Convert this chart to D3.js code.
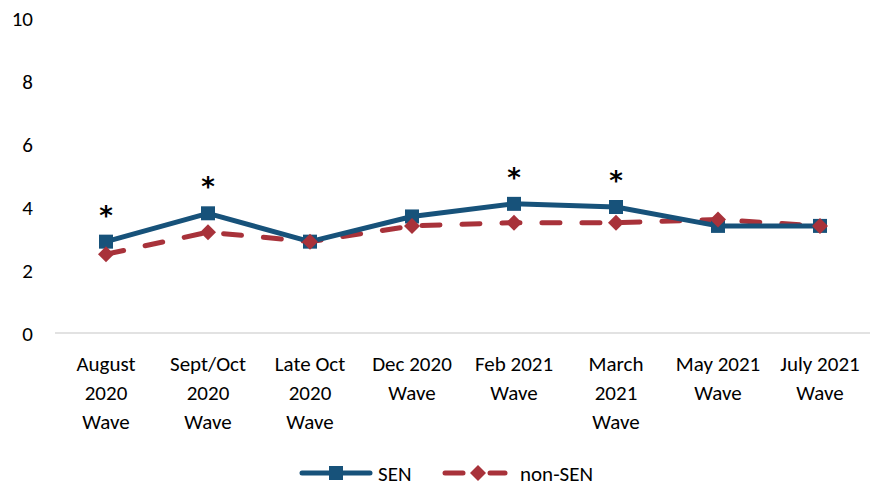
<!DOCTYPE html>
<html><head><meta charset="utf-8">
<script src="https://cdn.jsdelivr.net/npm/d3@7/dist/d3.min.js"></script>
<style>body{margin:0;background:#fff}svg{display:block;font-family:Carlito,Calibri,Lato,"Open Sans",sans-serif}</style>
</head><body><svg id="c" width="870" height="488"></svg>
<script>
const categories = [["August","2020","Wave"],["Sept/Oct","2020","Wave"],["Late Oct","2020","Wave"],["Dec 2020","Wave"],["Feb 2021","Wave"],["March","2021","Wave"],["May 2021","Wave"],["July 2021","Wave"]];
const senValues = [2.9, 3.8, 2.9, 3.7, 4.1, 4.0, 3.4, 3.4];
const nonSenValues = [2.5, 3.2, 2.9, 3.4, 3.5, 3.5, 3.6, 3.4];
const significant = [true, true, false, false, true, true, false, false];
const yTicks = [0, 2, 4, 6, 8, 10];
const seriesNames = ["SEN", "non-SEN"];

const svg = d3.select("#c");
const x = d3.scaleBand().domain(d3.range(categories.length)).range([55, 871]);
const y = d3.scaleLinear().domain([0, 10]).range([333, 18]);
const cx = i => x(i) + x.bandwidth() / 2;
const blue = "#17527A", red = "#A8323A";

// y tick labels
svg.append("g").selectAll("text").data(yTicks).join("text")
  .attr("x", 33).attr("y", d => y(d)).attr("dy", "0.36em")
  .attr("text-anchor", "end").attr("font-size", 21).attr("fill", "#000").text(d => d);

// baseline
svg.append("line").attr("x1", 55).attr("x2", 871).attr("y1", y(0)).attr("y2", y(0))
  .attr("stroke", "#d9d9d9").attr("stroke-width", 1.5);

// category labels
const cl = svg.append("g").selectAll("text").data(categories).join("text")
  .attr("text-anchor", "middle").attr("font-size", 21).attr("fill", "#000");
cl.each(function(d, i) {
  d3.select(this).selectAll("tspan").data(d).join("tspan")
    .attr("x", cx(i)).attr("y", (t, j) => 371 + j * 29).text(t => t);
});

const line = d3.line().x((d, i) => cx(i)).y(d => y(d));

// non-SEN
svg.append("path").datum(nonSenValues).attr("d", line).attr("fill", "none")
  .attr("stroke", red).attr("stroke-width", 5).attr("stroke-linecap", "round")
  .attr("stroke-dasharray", "18,22");
// SEN
svg.append("path").datum(senValues).attr("d", line).attr("fill", "none")
  .attr("stroke", blue).attr("stroke-width", 5).attr("stroke-linejoin", "round");

const sq = d3.symbol().type(d3.symbolSquare).size(196);
const di = d3.symbol().type(d3.symbolSquare).size(128);
svg.append("g").selectAll("path").data(senValues).join("path")
  .attr("d", sq).attr("transform", (d, i) => `translate(${cx(i)},${y(d)})`).attr("fill", blue);
svg.append("g").selectAll("path").data(nonSenValues).join("path")
  .attr("d", di).attr("transform", (d, i) => `translate(${cx(i)},${y(d)}) rotate(45)`).attr("fill", red);

// asterisks
svg.append("g").selectAll("text").data(senValues.map((v, i) => ({v, i})).filter(d => significant[d.i])).join("text")
  .attr("x", d => cx(d.i)).attr("y", d => y(d.v) - 17)
  .attr("text-anchor", "middle").attr("font-family", "DejaVu Sans").attr("font-weight", "bold")
  .attr("font-size", 26).attr("fill", "#000").text("*");

// legend
const lg = svg.append("g");
lg.append("line").attr("x1", 302).attr("x2", 370).attr("y1", 473).attr("y2", 473)
  .attr("stroke", blue).attr("stroke-width", 5).attr("stroke-linecap", "round");
lg.append("path").attr("d", sq).attr("transform", "translate(336,473)").attr("fill", blue);
lg.append("text").attr("x", 378).attr("y", 473).attr("dy", "0.36em").attr("font-size", 21).text(seriesNames[0]);
lg.append("line").attr("x1", 445).attr("x2", 463).attr("y1", 473).attr("y2", 473)
  .attr("stroke", red).attr("stroke-width", 5).attr("stroke-linecap", "round");
lg.append("line").attr("x1", 490).attr("x2", 505).attr("y1", 473).attr("y2", 473)
  .attr("stroke", red).attr("stroke-width", 5).attr("stroke-linecap", "round");
lg.append("path").attr("d", di).attr("transform", "translate(478,473) rotate(45)").attr("fill", red);
lg.append("text").attr("x", 520).attr("y", 473).attr("dy", "0.36em").attr("font-size", 21).text(seriesNames[1]);
</script></body></html>
